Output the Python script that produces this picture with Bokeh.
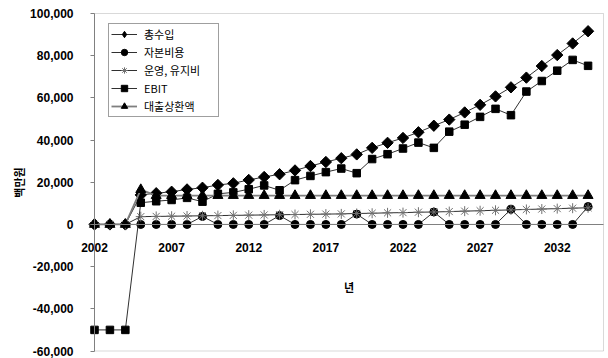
import numpy as np
from bokeh.plotting import figure
from bokeh.models import (Range1d, FixedTicker, NumeralTickFormatter, LinearAxis,
                          Legend, LegendItem, Label, BoxAnnotation)
from bokeh.embed import file_html
from bokeh.resources import INLINE

# ---- data (백만원) ----
years = list(range(2002, 2035))

revenue = [0, 0, 0, 14000, 14800, 15500, 16600, 17400, 18700, 19500,
           21100, 22500, 23800, 25600, 27700, 29600, 31400, 33200, 36300, 38700,
           41000, 43700, 46800, 49700, 53100, 56700, 60700, 65000, 69600, 75100,
           80300, 85800, 91600]

capital = [0, 0, 0, 0, 0, 0, 0, 3800, 0, 0,
           0, 0, 4200, 0, 0, 0, 0, 4900, 0, 0,
           0, 0, 5900, 0, 0, 0, 0, 7200, 0, 0,
           0, 0, 8500]

opex = [0, 0, 0, 3700, 3800, 3900, 4000, 4100, 4200, 4300,
        4400, 4500, 4600, 4700, 4800, 4900, 5000, 5200, 5300, 5500,
        5600, 5800, 5900, 6100, 6300, 6500, 6700, 6900, 7100, 7300,
        7500, 7700, 7900]

ebit = [-50000, -50000, -50000, 10300, 11000, 11600, 12600, 10800, 14500, 15200,
        16700, 18500, 16200, 21000, 23000, 24800, 26500, 24300, 31000, 33300,
        36000, 38800, 36300, 44000, 47300, 51000, 54800, 51800, 63000, 68000,
        72900, 78000, 75200]

repayment = [0, 0, 0, 16500, 13700, 13700, 13700, 13700, 13700, 13700,
             13700, 13700, 13700, 13700, 13700, 13700, 13700, 13700, 13700, 13700,
             13700, 13700, 13700, 13700, 13700, 13700, 13700, 13700, 13700, 13700,
             13700, 13700, 13700]

series_names = ["총수입", "자본비용", "운영, 유지비", "EBIT", "대출상환액"]
x_tick_years = [2002, 2007, 2012, 2017, 2022, 2027, 2032]
y_ticks = [-60000, -40000, -20000, 0, 20000, 40000, 60000, 80000, 100000]
x_title = "년"
y_title = "백만원"

# plot-area extent in data units
X0, X1 = 2002, 2035
Y0, Y1 = -60000, 100000

NUM_FONT = "Liberation Sans"
KR_FONT = "Noto Sans CJK KR"
AXIS_GRAY = "#808080"

W, H = 608, 358
# plot area in canvas pixels; the frame covers the whole canvas so the
# axes (placed at fixed data locations) can be drawn inside it
PA_LEFT, PA_RIGHT, PA_TOP, PA_BOTTOM = 94, 603, 13, 350.5
px_per_x = (PA_RIGHT - PA_LEFT) / (X1 - X0)
px_per_y = (PA_BOTTOM - PA_TOP) / (Y1 - Y0)
x_start = X0 - PA_LEFT / px_per_x
x_end = X1 + (W - PA_RIGHT) / px_per_x
y_end = Y1 + PA_TOP / px_per_y
y_start = Y0 - (H - PA_BOTTOM) / px_per_y

p = figure(width=W, height=H, output_backend="svg", toolbar_location=None,
           x_range=Range1d(x_start, x_end), y_range=Range1d(y_start, y_end),
           x_axis_location=None, y_axis_location=None, min_border=0)

p.background_fill_color = "white"
p.border_fill_color = "white"
p.outline_line_color = None
p.xgrid.visible = False
p.ygrid.visible = False

# plot-area border
p.add_layout(BoxAnnotation(left=X0, right=X1, bottom=Y0, top=Y1,
                           fill_alpha=0, line_color=AXIS_GRAY, line_width=1,
                           level="underlay"))

# value axis on the left edge of the plot area
ya = LinearAxis(fixed_location=X0, bounds=(Y0, Y1),
                ticker=FixedTicker(ticks=y_ticks),
                formatter=NumeralTickFormatter(format="0,0"),
                axis_line_color=AXIS_GRAY,
                major_tick_line_color=AXIS_GRAY,
                major_tick_in=0, major_tick_out=4,
                minor_tick_line_color=None,
                major_label_standoff=17,
                major_label_text_font=NUM_FONT,
                major_label_text_font_style="bold",
                major_label_text_font_size="12px",
                major_label_text_color="black",
                axis_label=y_title,
                axis_label_standoff=0,
                axis_label_text_font=KR_FONT,
                axis_label_text_font_style="bold",
                axis_label_text_font_size="11px",
                axis_label_text_color="black")
p.add_layout(ya, "left")

# year axis crossing the value axis at zero
xa = LinearAxis(fixed_location=0, bounds=(X0, X1),
                ticker=FixedTicker(ticks=x_tick_years),
                axis_line_color=AXIS_GRAY, axis_line_width=1,
                major_tick_in=0, major_tick_out=0,
                major_tick_line_color=None, minor_tick_line_color=None,
                major_label_standoff=19,
                major_label_text_font=NUM_FONT,
                major_label_text_font_style="bold",
                major_label_text_font_size="12px",
                major_label_text_color="black")
p.add_layout(xa, "below")

p.add_layout(Label(x=(X0 + X1) / 2, y=-29600, text=x_title, text_align="center",
                   text_baseline="middle", text_font=KR_FONT,
                   text_font_style="bold", text_font_size="11px",
                   text_color="black"))

LINE = "#303030"

# series
r_rev_l = p.line(years, revenue, line_color=LINE, line_width=1)
r_rev_m = p.scatter(years, revenue, marker="square", angle=np.pi / 4, size=8,
                    fill_color="black", line_color="black")

r_cap_l = p.line(years, capital, line_color=LINE, line_width=1)
r_cap_m = p.scatter(years, capital, marker="circle", size=8,
                    fill_color="black", line_color="black")

r_op_l = p.line(years, opex, line_color=LINE, line_width=1)
r_op_m = p.scatter(years, opex, marker="asterisk", size=10,
                   line_color="#707070", line_width=1)

r_eb_l = p.line(years, ebit, line_color=LINE, line_width=1)
r_eb_m = p.scatter(years, ebit, marker="square", size=7.5,
                   fill_color="black", line_color="black")

r_rp_l = p.line(years, repayment, line_color="#7f7f7f", line_width=1.8)
r_rp_m = p.scatter(years, repayment, marker="triangle", size=10,
                   fill_color="black", line_color="black")

# legend key for the revenue series (legend keys ignore marker angle)
rev_key = p.scatter(x=[np.nan], y=[np.nan], marker="diamond", size=10,
                    fill_color="black", line_color="black")

pairs = [(r_rev_l, rev_key), (r_cap_l, r_cap_m), (r_op_l, r_op_m),
         (r_eb_l, r_eb_m), (r_rp_l, r_rp_m)]
items = [LegendItem(label=name, renderers=list(rr), index=0)
         for name, rr in zip(series_names, pairs)]

legend = Legend(items=items, location=(108, 241), orientation="vertical",
                border_line_color="#404040", border_line_width=1,
                background_fill_color="white", background_fill_alpha=1,
                label_text_font=KR_FONT, label_text_font_size="11px",
                label_text_color="black",
                glyph_width=26, glyph_height=16, label_height=16,
                label_width=72,
                spacing=2, padding=2, margin=0, label_standoff=7)
p.add_layout(legend)

open("out.html", "w").write(file_html(p, INLINE))
